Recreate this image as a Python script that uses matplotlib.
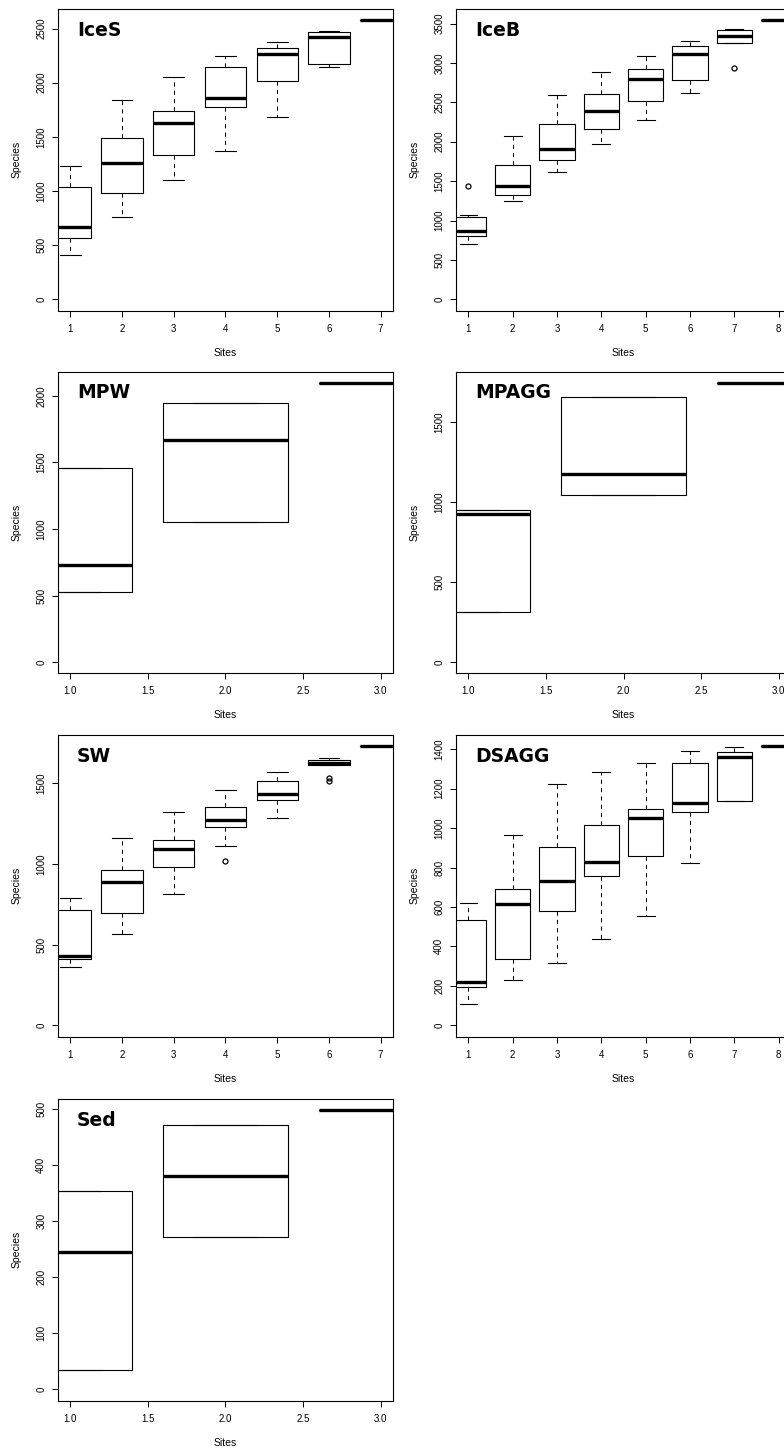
import numpy as np
import matplotlib.pyplot as plt

plt.rcParams['font.family'] = ['Liberation Sans', 'DejaVu Sans']

# per site: (lower whisker, Q1, median, Q3, upper whisker)
ices = [(407, 565, 670, 1034, 1234), (756, 978, 1262, 1490, 1836),
        (1105, 1330, 1629, 1737, 2052), (1370, 1774, 1861, 2148, 2243),
        (1682, 2018, 2265, 2324, 2373), (2148, 2169, 2426, 2472, 2481),
        (2577, 2577, 2577, 2577, 2577)]
ices_out = {}

iceb = [(696, 810, 865, 1050, 1065), (1243, 1319, 1442, 1705, 2070),
        (1621, 1773, 1905, 2227, 2596), (1977, 2168, 2384, 2605, 2881),
        (2278, 2520, 2800, 2923, 3093), (2613, 2779, 3118, 3211, 3284),
        (3258, 3258, 3347, 3415, 3428), (3543, 3543, 3543, 3543, 3543)]
iceb_out = {1: [1434], 7: [2931]}

mpw = [(529, 529, 732, 1456, 1456), (1050, 1050, 1666, 1947, 1947),
       (2098, 2098, 2098, 2098, 2098)]
mpw_out = {}

mpagg = [(312, 312, 923, 948, 948), (1042, 1042, 1175, 1656, 1656),
         (1744, 1744, 1744, 1744, 1744)]
mpagg_out = {}

sw = [(359, 411, 429, 716, 792), (569, 697, 887, 964, 1159),
      (813, 984, 1093, 1151, 1322), (1114, 1230, 1275, 1355, 1461),
      (1283, 1399, 1434, 1518, 1570), (1613, 1613, 1628, 1644, 1655),
      (1731, 1731, 1731, 1731, 1731)]
sw_out = {4: [1017], 6: [1532, 1516]}

dsagg = [(106, 192, 219, 535, 622), (228, 336, 614, 692, 965),
         (314, 582, 730, 902, 1221), (440, 756, 828, 1017, 1285),
         (553, 859, 1052, 1096, 1332), (821, 1081, 1125, 1331, 1388),
         (1138, 1138, 1361, 1387, 1412), (1415, 1415, 1415, 1415, 1415)]
dsagg_out = {}

sed = [(34, 34, 245, 354, 354), (272, 272, 381, 472, 472),
       (498, 498, 498, 498, 498)]
sed_out = {}

panels = [("IceS", ices, ices_out, 500), ("IceB", iceb, iceb_out, 500),
          ("MPW", mpw, mpw_out, 500), ("MPAGG", mpagg, mpagg_out, 500),
          ("SW", sw, sw_out, 500), ("DSAGG", dsagg, dsagg_out, 200),
          ("Sed", sed, sed_out, 100)]

W, H = 784, 1448
col_left = [58, 456]
row_top = [9, 371.7, 735, 1099]
ax_w, ax_h = 335, 301.5

fig = plt.figure(figsize=(W / 100, H / 100), dpi=100)


def draw_panel(ax, name, stats, outliers, ystep):
  n = len(stats)
  pos = np.arange(1, n + 1)
  bx = []
  for i, (lo, q1, med, q3, hi) in enumerate(stats):
    bx.append({'whislo': lo, 'q1': q1, 'med': med, 'q3': q3, 'whishi': hi,
               'fliers': outliers.get(i + 1, [])})
  ax.bxp(bx, positions=pos, widths=0.8, capwidths=0.4, manage_ticks=False,
         boxprops=dict(color='black', linewidth=0.8),
         whiskerprops=dict(color='black', linewidth=0.75, linestyle=(0, (4, 4))),
         capprops=dict(color='black', linewidth=0.8),
         medianprops=dict(color='black', linewidth=2.4, solid_capstyle='butt'),
         flierprops=dict(marker='o', markersize=3.6, markerfacecolor='none',
                         markeredgecolor='black', markeredgewidth=0.9))

  # R-style 4% padding around the data range (which starts at 0)
  ext = 0.04 * (n - 1)
  ax.set_xlim(1 - ext, n + ext)
  ymax = max(max(s[4] for s in stats),
             max([v for vals in outliers.values() for v in vals], default=0))
  ytop = 1.04 * ymax
  ax.set_ylim(-0.04 * ymax, ytop)

  if n <= 3:
    xt = np.arange(1, n + 0.01, 0.5)
    ax.set_xticks(xt)
    ax.set_xticklabels([f'{v:.1f}' for v in xt])
  else:
    ax.set_xticks(pos)
    ax.set_xticklabels([str(p) for p in pos])
  yt = np.arange(0, ytop, ystep)
  ax.set_yticks(yt)
  ax.set_yticklabels([str(int(v)) for v in yt], rotation=90, va='center')

  ax.tick_params(axis='both', direction='out', length=4, width=0.75,
                 labelsize=7, color='black')
  ax.tick_params(axis='x', pad=5.5)
  ax.tick_params(axis='y', pad=4.5)
  for sp in ax.spines.values():
    sp.set_linewidth(0.8)
    sp.set_color('black')

  ax.set_xlabel('Sites', fontsize=7.5, va='center')
  ax.set_ylabel('Species', fontsize=7.5, va='center')
  ax.xaxis.set_label_coords(0.5, -42 / ax_h)
  ax.yaxis.set_label_coords(-41 / ax_w, 0.5)

  ax.text(0.056, 0.93, name, transform=ax.transAxes, fontsize=13.5,
          fontweight='bold', family='DejaVu Sans', ha='left', va='center')


for k, (name, stats, outs, ystep) in enumerate(panels):
  r, c = divmod(k, 2)
  left = col_left[c] / W
  bottom = 1 - (row_top[r] + ax_h) / H
  ax = fig.add_axes([left, bottom, ax_w / W, ax_h / H])
  draw_panel(ax, name, stats, outs, ystep)

fig.savefig('out.png', dpi=100)
